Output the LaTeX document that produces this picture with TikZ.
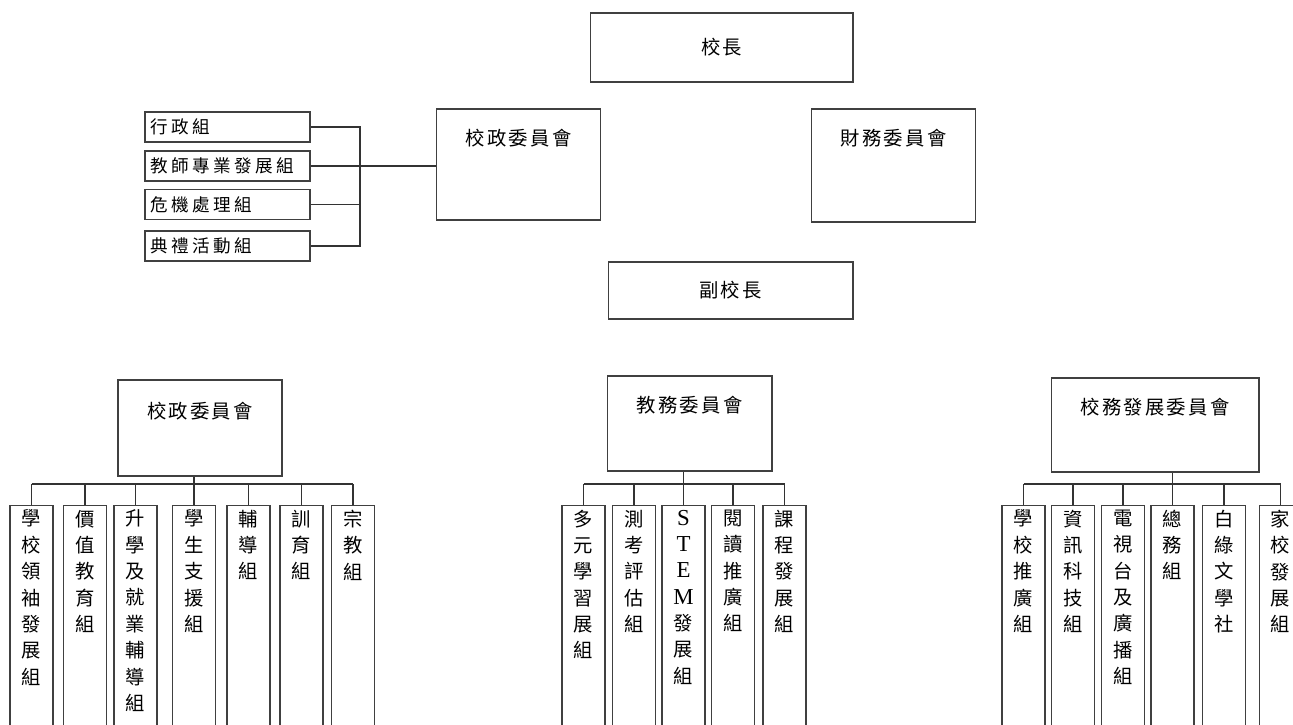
\documentclass[tikz,border=0pt]{standalone}
\usepackage{fontspec}
\newfontfamily\cjkfont{Noto Sans CJK TC}
\newfontfamily\cjkwide[LetterSpace=12]{Noto Sans CJK TC}
\newfontfamily\cjksmall[LetterSpace=20]{Noto Sans CJK TC}
\newfontfamily\latinserif{Liberation Serif}
\usetikzlibrary{positioning}

\begin{document}
\begin{tikzpicture}[
    x=0.02cm, y=-0.02cm,
    line width=0.6pt, draw=black!80,
    topbox/.style={rectangle, draw=black!75, font=\cjkwide\fontsize{11}{13}\selectfont},
    commbox/.style={rectangle, draw=black!75, minimum width=3.28cm, minimum height=1.92cm},
    headtext/.style={anchor=north, font=\cjkwide\fontsize{11}{13}\selectfont},
    teambox/.style={rectangle, draw=black!75, minimum width=3.3cm, minimum height=0.6cm,
                text width=3.1cm, inner xsep=0.1cm, align=left,
                font=\cjksmall\fontsize{10}{12}\selectfont},
    colbox/.style={rectangle, draw=black!75, anchor=north, minimum width=0.86cm, minimum height=4.8cm},
    coltext/.style={anchor=north, align=center, inner sep=2.5pt, font=\cjkfont\fontsize{11}{15}\selectfont}
]
    \clip (0,0) rectangle (1293,724);

    % Principal and committees
    \node[topbox, minimum width=5.26cm, minimum height=1.38cm] (head) at (721.5,47.5) {校長};
    \node[commbox, minimum height=2.22cm, label={[headtext, yshift=-0.28cm]north:校政委員會}] (adm) at (518.5,164.5) {};
    \node[commbox, minimum height=2.26cm, label={[headtext, yshift=-0.28cm]north:財務委員會}] (fin) at (893.5,165.5) {};
    \node[topbox, minimum width=4.9cm, minimum height=1.14cm] (vice) at (730.5,290.5) {副校長};

    % Teams under the school council
    \node[teambox] (admin) at (227.5,127) {行政組};
    \node[teambox] (prof) at (227.5,166) {教師專業發展組};
    \node[teambox] (crisis) at (227.5,204.5) {危機處理組};
    \node[teambox] (ceremony) at (227.5,246) {典禮活動組};

    \coordinate (brk) at (360,0);
    \draw (admin.east) -- (admin.east -| brk) -- (ceremony.east -| brk) -- (ceremony.east);
    \draw (crisis.east) -- (crisis.east -| brk);
    \draw (prof.east) -- (prof.east -| adm.west);

    % Second row committees
    \node[commbox, label={[headtext, yshift=-0.32cm]north:校政委員會}] (lp) at (200,428) {};
    \node[commbox, minimum width=3.3cm, minimum height=1.9cm, label={[headtext, yshift=-0.28cm]north:教務委員會}] (mp) at (689.5,423.5) {};
    \node[commbox, minimum width=4.16cm, minimum height=1.88cm, label={[headtext, yshift=-0.28cm]north:校務發展委員會}] (rp) at (1155,425) {};

    \coordinate (bus) at (0,484);

    % Left groups
    \node[colbox, label={[coltext]north:學\\校\\領\\袖\\發\\展\\組}] (l1) at (31.5,505) {};
    \node[colbox, label={[coltext]north:價\\值\\教\\育\\組}] (l2) at (85,505) {};
    \node[colbox, label={[coltext]north:升\\學\\及\\就\\業\\輔\\導\\組}] (l3) at (135.5,505) {};
    \node[colbox, label={[coltext]north:學\\生\\支\\援\\組}] (l4) at (194,505) {};
    \node[colbox, label={[coltext]north:輔\\導\\組}] (l5) at (248.5,505) {};
    \node[colbox, label={[coltext]north:訓\\育\\組}] (l6) at (301.5,505) {};
    \node[colbox, label={[coltext]north:宗\\教\\組}] (l7) at (353,505) {};

    % Middle groups
    \node[colbox, label={[coltext]north:多\\元\\學\\習\\展\\組}] (m1) at (583.5,505) {};
    \node[colbox, label={[coltext]north:測\\考\\評\\估\\組}] (m2) at (634,505) {};
    \node[colbox, label={[coltext]north:{\latinserif\fontsize{13}{15}\selectfont S}\\{\latinserif\fontsize{13}{15}\selectfont T}\\{\latinserif\fontsize{13}{15}\selectfont E}\\{\latinserif\fontsize{13}{15}\selectfont M}\\發\\展\\組}] (m3) at (683.5,505) {};
    \node[colbox, label={[coltext]north:閱\\讀\\推\\廣\\組}] (m4) at (733,505) {};
    \node[colbox, label={[coltext]north:課\\程\\發\\展\\組}] (m5) at (784.5,505) {};

    % Right groups
    \node[colbox, label={[coltext]north:學\\校\\推\\廣\\組}] (r1) at (1023.5,505) {};
    \node[colbox, label={[coltext]north:資\\訊\\科\\技\\組}] (r2) at (1073,505) {};
    \node[colbox, label={[coltext]north:電\\視\\台\\及\\廣\\播\\組}] (r3) at (1123,505) {};
    \node[colbox, label={[coltext]north:總\\務\\組}] (r4) at (1172.5,505) {};
    \node[colbox, label={[coltext]north:白\\綠\\文\\學\\社}] (r5) at (1224,505) {};
    \node[colbox, label={[coltext]north:家\\校\\發\\展\\組}] (r6) at (1280.5,505) {};

    % Lines
    \draw (l4.north) -- (l4.north |- lp.south);
    \draw (l1.north |- bus) -- (l7.north |- bus);
    \draw (l1.north) -- (l1.north |- bus);
    \draw (l2.north) -- (l2.north |- bus);
    \draw (l3.north) -- (l3.north |- bus);
    \draw (l5.north) -- (l5.north |- bus);
    \draw (l6.north) -- (l6.north |- bus);
    \draw (l7.north) -- (l7.north |- bus);

    \draw (m3.north) -- (m3.north |- mp.south);
    \draw (m1.north |- bus) -- (m5.north |- bus);
    \draw (m1.north) -- (m1.north |- bus);
    \draw (m2.north) -- (m2.north |- bus);
    \draw (m4.north) -- (m4.north |- bus);
    \draw (m5.north) -- (m5.north |- bus);

    \draw (r4.north) -- (r4.north |- rp.south);
    \draw (r1.north |- bus) -- (r6.north |- bus);
    \draw (r1.north) -- (r1.north |- bus);
    \draw (r2.north) -- (r2.north |- bus);
    \draw (r3.north) -- (r3.north |- bus);
    \draw (r5.north) -- (r5.north |- bus);
    \draw (r6.north) -- (r6.north |- bus);
\end{tikzpicture}
\end{document}
